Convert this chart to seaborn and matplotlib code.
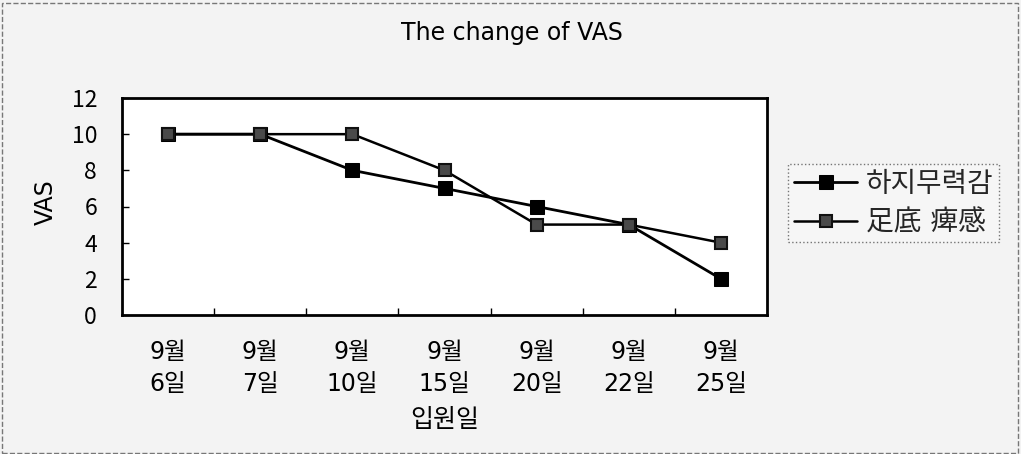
import matplotlib
matplotlib.use("Agg")
import matplotlib.pyplot as plt
import matplotlib.patches as mpatches
from matplotlib.ticker import FixedLocator
import seaborn as sns
import pandas as pd

# ---- data ----
dates = ["9월\n6일", "9월\n7일", "9월\n10일", "9월\n15일", "9월\n20일", "9월\n22일", "9월\n25일"]
weakness = [10, 10, 8, 7, 6, 5, 2]       # 하지무력감
numbness = [10, 10, 10, 8, 5, 5, 4]      # 足底 痺感
series_names = ["하지무력감", "足底 痺感"]
title = "The change of VAS"
xlabel = "입원일"
ylabel = "VAS"
yticks = [0, 2, 4, 6, 8, 10, 12]

sns.set_theme(style="white")
FAM = ["DejaVu Sans", "Noto Sans CJK KR"]
plt.rcParams["font.family"] = FAM

W, H = 1021, 454
fig = plt.figure(figsize=(W / 100, H / 100), dpi=100, facecolor="#f3f3f3")
ax = fig.add_axes([122 / W, 1 - 315 / H, (767 - 122) / W, (315 - 98) / H])
ax.set_facecolor("white")

df1 = pd.DataFrame({"date": dates, "VAS": weakness})
df2 = pd.DataFrame({"date": dates, "VAS": numbness})

sns.lineplot(data=df1, x="date", y="VAS", ax=ax, color="black", lw=2,
             marker="s", markersize=10.5, markerfacecolor="black",
             markeredgecolor="black", label=series_names[0], sort=False)
sns.lineplot(data=df2, x="date", y="VAS", ax=ax, color="black", lw=1.8,
             marker="s", markersize=9, markerfacecolor="#4a4a4a",
             markeredgecolor="#111111", markeredgewidth=1.5,
             label=series_names[1], sort=False)

ax.set_xlim(-0.5, len(dates) - 0.5)
ax.set_ylim(0, 12)
ax.set_yticks(yticks)
ax.xaxis.set_minor_locator(FixedLocator([i + 0.5 for i in range(len(dates) - 1)]))
ax.tick_params(axis="x", which="major", length=0, pad=18, labelsize=17,
               colors="black")
ax.tick_params(axis="x", which="minor", direction="in", length=5, width=1,
               color="black", bottom=True)
ax.tick_params(axis="y", which="major", direction="in", length=5, width=1,
               pad=18, labelsize=16.5, colors="black", left=True)
for lab in ax.get_xticklabels():
    lab.set_linespacing(1.4)
for lab in ax.get_yticklabels():
    lab.set_family(["Noto Sans CJK KR"])

for s in ax.spines.values():
    s.set_visible(True)
    s.set_color("black")
    s.set_linewidth(2)

ax.set_xlabel(xlabel, fontsize=18, color="black")
ax.set_ylabel(ylabel, fontsize=17, color="black")
ax.xaxis.set_label_coords(0.5, -0.43)
ax.yaxis.set_label_coords(-0.10, 0.52)

fig.text(512 / W, 1 - 33 / H, title, ha="center", va="center", fontsize=17,
         color="black")

handles, labels = ax.get_legend_handles_labels()
ax.get_legend().remove()
leg = fig.legend(handles, labels, loc="upper left",
                 bbox_to_anchor=(788 / W, 1 - 164 / H), fontsize=20,
                 frameon=True, fancybox=False, handlelength=2.3,
                 handletextpad=0.3, borderpad=0.2, labelspacing=0.4,
                 borderaxespad=0)
fr = leg.get_frame()
fr.set_edgecolor("#555555")
fr.set_linestyle(":")
fr.set_linewidth(1)
fr.set_facecolor("#f8f8f8")

fig.patches.append(mpatches.Rectangle((0.002, 0.003), 0.995, 0.99,
                                      transform=fig.transFigure, fill=False,
                                      ec="#777777", lw=1, ls="--"))

fig.savefig("out.png", dpi=100, facecolor=fig.get_facecolor())
